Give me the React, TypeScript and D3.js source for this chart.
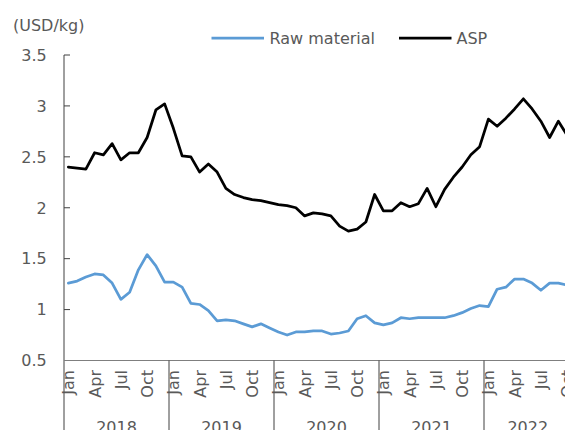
import React from 'react';
import * as d3 from 'd3';

// Monthly prices, Jan 2018 – Oct 2022 (USD/kg)
const years = ['2018', '2019', '2020', '2021', '2022'];
const monthNames = ['Jan', 'Feb', 'Mar', 'Apr', 'May', 'Jun', 'Jul', 'Aug', 'Sep', 'Oct', 'Nov', 'Dec'];
const labelledMonths = ['Jan', 'Apr', 'Jul', 'Oct'];

const rawMaterial = [
  1.26, 1.28, 1.32, 1.35, 1.34, 1.26, 1.10, 1.17, 1.39, 1.54, 1.43, 1.27,
  1.27, 1.22, 1.06, 1.05, 0.99, 0.89, 0.90, 0.89, 0.86, 0.83, 0.86, 0.82,
  0.78, 0.75, 0.78, 0.78, 0.79, 0.79, 0.76, 0.77, 0.79, 0.91, 0.94, 0.87,
  0.85, 0.87, 0.92, 0.91, 0.92, 0.92, 0.92, 0.92, 0.94, 0.97, 1.01, 1.04,
  1.03, 1.20, 1.22, 1.30, 1.30, 1.26, 1.19, 1.26, 1.26, 1.24,
];

const asp = [
  2.40, 2.39, 2.38, 2.54, 2.52, 2.63, 2.47, 2.54, 2.54, 2.69, 2.96, 3.02,
  2.78, 2.51, 2.50, 2.35, 2.43, 2.35, 2.19, 2.13, 2.10, 2.08, 2.07, 2.05,
  2.03, 2.02, 2.00, 1.92, 1.95, 1.94, 1.92, 1.82, 1.77, 1.79, 1.86, 2.13,
  1.97, 1.97, 2.05, 2.01, 2.04, 2.19, 2.01, 2.18, 2.30, 2.40, 2.52, 2.60,
  2.87, 2.80, 2.88, 2.97, 3.07, 2.97, 2.85, 2.69, 2.85, 2.71,
];

const yTicks = [0.5, 1, 1.5, 2, 2.5, 3, 3.5];

const seriesNames = ['Raw material', 'ASP'];
const seriesColors = ['#5B9BD5', '#000000'];

const W = 565;
const H = 430;
const FONT = '"DejaVu Sans", Verdana, sans-serif';
const TEXT = '#595959';

const n = asp.length;
const categories = d3.range(n).map((i) => ({
  year: years[Math.floor(i / 12)],
  month: monthNames[i % 12],
  index: i,
}));

const plotLeft = 64;
const plotRight = plotLeft + n * 8.75;
const plotTop = 55;
const plotBottom = 360.5;

export default function App() {
  const x = d3.scaleBand<number>().domain(d3.range(n)).range([plotLeft, plotRight]).padding(0);
  const y = d3.scaleLinear().domain([0.5, 3.5]).range([plotBottom, plotTop]);
  const cx = (i: number) => (x(i) as number) + x.bandwidth() / 2;

  const line = d3
    .line<number>()
    .x((_, i) => cx(i))
    .y((d) => y(d));

  const series = [rawMaterial, asp];

  // year groups along the category axis
  const yearGroups = years
    .map((yr) => {
      const idx = categories.filter((c) => c.year === yr).map((c) => c.index);
      if (!idx.length) return null;
      const start = x(idx[0]) as number;
      const end = (x(idx[idx.length - 1]) as number) + x.bandwidth();
      return { yr, start, end };
    })
    .filter(Boolean) as { yr: string; start: number; end: number }[];

  return (
    <svg
      width={W}
      height={H}
      style={{ position: 'absolute', left: 0, top: 0, display: 'block', background: '#fff' }}
      fontFamily={FONT}
    >
      {/* unit label */}
      <text x={13} y={31} fontSize={16} fill={TEXT}>
        (USD/kg)
      </text>

      {/* legend */}
      <g>
        <line x1={211.5} x2={264} y1={38} y2={38} stroke={seriesColors[0]} strokeWidth={2.75} />
        <text x={269.5} y={43.7} fontSize={16} fill={TEXT}>
          {seriesNames[0]}
        </text>
        <line x1={399} x2={451.5} y1={38} y2={38} stroke={seriesColors[1]} strokeWidth={2.75} />
        <text x={456.5} y={43.7} fontSize={16} fill={TEXT}>
          {seriesNames[1]}
        </text>
      </g>

      {/* y axis */}
      <line x1={plotLeft} x2={plotLeft} y1={plotTop} y2={H} stroke="#404040" strokeWidth={1} />
      {yTicks.map((t) => (
        <g key={t}>
          <line x1={plotLeft} x2={plotLeft + 6} y1={y(t)} y2={y(t)} stroke="#404040" strokeWidth={1} />
          <text x={46.7} y={y(t)} dy="0.36em" fontSize={16} fill={TEXT} textAnchor="end">
            {String(t)}
          </text>
        </g>
      ))}

      {/* x axis */}
      <line x1={plotLeft} x2={plotRight} y1={plotBottom} y2={plotBottom} stroke="#7f7f7f" strokeWidth={1} />
      {yearGroups.map((g) => (
        <g key={g.yr}>
          <line x1={g.end} x2={g.end} y1={plotBottom} y2={H} stroke="#404040" strokeWidth={1} />
          <text x={(g.start + g.end) / 2} y={432.5} fontSize={16} fill={TEXT} textAnchor="middle">
            {g.yr}
          </text>
        </g>
      ))}
      {categories
        .filter((c) => labelledMonths.includes(c.month))
        .map((c) => (
          <text
            key={c.index}
            transform={`translate(${cx(c.index) + 6},370) rotate(-90)`}
            fontSize={16}
            fill={TEXT}
            textAnchor="end"
          >
            {c.month}
          </text>
        ))}

      {/* series */}
      {series.map((s, k) => (
        <path
          key={seriesNames[k]}
          d={line(s) ?? ''}
          fill="none"
          stroke={seriesColors[k]}
          strokeWidth={2.75}
          strokeLinejoin="round"
          strokeLinecap="round"
        />
      ))}
    </svg>
  );
}
